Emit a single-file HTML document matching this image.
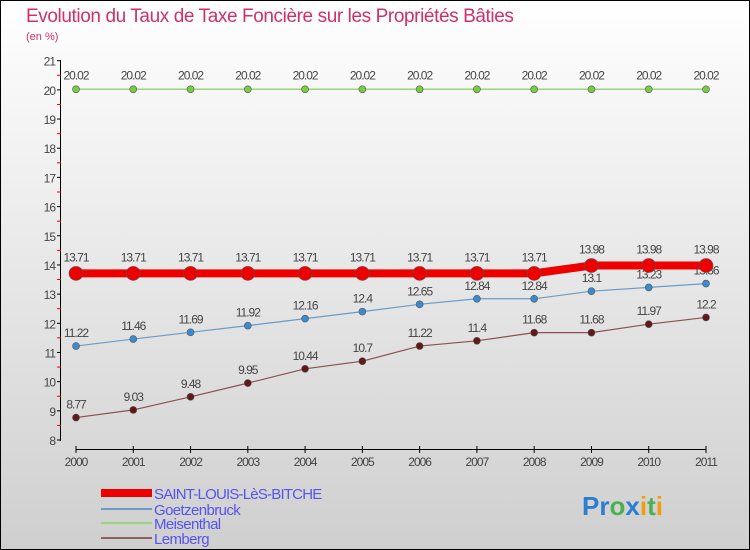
<!DOCTYPE html>
<html><head><meta charset="utf-8"><style>
body{margin:0;width:750px;height:550px;overflow:hidden;font-family:"Liberation Sans",sans-serif}
svg{display:block}
</style></head><body>
<svg width="750" height="550" xmlns="http://www.w3.org/2000/svg">
<defs><linearGradient id="bg" x1="0" y1="0" x2="0" y2="1"><stop offset="0" stop-color="#ffffff"/><stop offset="1" stop-color="#cfcfcf"/></linearGradient></defs>
<rect x="0.5" y="0.5" width="749" height="549" fill="url(#bg)" stroke="#000"/>
<text x="26" y="22" font-size="19" fill="#d0306a" letter-spacing="-0.4">Evolution du Taux de Taxe Foncière sur les Propriétés Bâties</text>
<text x="26" y="40" font-size="11" fill="#d0306a">(en %)</text>
<g id="axes"></g>
<g id="series"></g>
<g>
<rect x="101" y="489" width="51" height="8" fill="#e00"/>
<text x="154" y="499" font-size="15" fill="#5555ee" letter-spacing="-0.8">SAINT-LOUIS-LèS-BITCHE</text>
<rect x="101" y="508" width="51" height="2" fill="#6a9cc8"/>
<text x="154" y="515" font-size="15" fill="#5555ee" letter-spacing="-0.6">Goetzenbruck</text>
<rect x="101" y="522" width="51" height="2" fill="#9bd47a"/>
<text x="154" y="529" font-size="15" fill="#5555ee" letter-spacing="-0.6">Meisenthal</text>
<rect x="101" y="537" width="51" height="2" fill="#8c6060"/>
<text x="154" y="544" font-size="15" fill="#5555ee" letter-spacing="-0.6">Lemberg</text>
</g>
<text x="582" y="515" font-size="26" font-weight="bold"><tspan fill="#2a7fd0">Pr</tspan><tspan fill="#4caf50">o</tspan><tspan fill="#2a7fd0">x</tspan><tspan fill="#f39c12">i</tspan><tspan fill="#4caf50">t</tspan><tspan fill="#f39c12">i</tspan></text>
</svg>
<script>
const years=[2000,2001,2002,2003,2004,2005,2006,2007,2008,2009,2010,2011];
const yTicks=[8,9,10,11,12,13,14,15,16,17,18,19,20,21];
const saintLouis=[13.71,13.71,13.71,13.71,13.71,13.71,13.71,13.71,13.71,13.98,13.98,13.98];
const goetzenbruck=[11.22,11.46,11.69,11.92,12.16,12.4,12.65,12.84,12.84,13.1,13.23,13.36];
const meisenthal=[20.02,20.02,20.02,20.02,20.02,20.02,20.02,20.02,20.02,20.02,20.02,20.02];
const lemberg=[8.77,9.03,9.48,9.95,10.44,10.7,11.22,11.4,11.68,11.68,11.97,12.2];
const NS="http://www.w3.org/2000/svg";
const xS=i=>76+i*(630/11);
const yS=v=>440-(v-8)*(379.3/13);
function mk(tag,attrs,parent,txt){const e=document.createElementNS(NS,tag);for(const k in attrs)e.setAttribute(k,attrs[k]);if(txt!==undefined)e.textContent=txt;parent.appendChild(e);return e;}
const ax=document.getElementById('axes');
let e=mk('line',{x1:60.5,y1:60,x2:60.5,y2:441,stroke:'#000'},ax);


e=mk('line',{x1:76,y1:449.5,x2:706,y2:449.5,stroke:'#000'},ax);


yTicks.forEach(v=>{const y=yS(v);
 mk('line',{x1:57,y1:y,x2:61,y2:y,stroke:'#000'},ax);
 if(v<21)mk('line',{x1:57,y1:yS(v+0.5),x2:61,y2:yS(v+0.5),stroke:'#e00'},ax);
 const t=mk('text',{x:55,y:y+5,'font-size':12,fill:'#444','text-anchor':'end','letter-spacing':'-1'},ax,String(v));
 
 
});
years.forEach((yr,i)=>{const x=xS(i);
 mk('line',{x1:x,y1:446,x2:x,y2:453,stroke:'#000'},ax);
 const t=mk('text',{x:x,y:466,'font-size':12,fill:'#444','text-anchor':'middle','letter-spacing':'-1'},ax,String(yr));
 
 
});
const sg=document.getElementById('series');
function draw(vals,name,color,w,r,dot,labOff){
 const g=mk('g',{},sg);
 
 
 mk('polyline',{points:vals.map((v,i)=>xS(i)+','+yS(v)).join(' '),fill:'none',stroke:color,'stroke-width':w},g);
 vals.forEach((v,i)=>{
  const c=mk('circle',{cx:xS(i),cy:yS(v),r:r,fill:dot,stroke:'#555','stroke-width':0.6},g);
  
  
  const t=mk('text',{x:xS(i),y:yS(v)-labOff,'font-size':12,fill:'#444','text-anchor':'middle','letter-spacing':'-1'},g,String(v));
  
  
 });
}
draw(meisenthal,'meisenthal','#9bd47a',1.5,3.5,'#77cc44',10);
draw(lemberg,'lemberg','#8c5050',1.2,3.5,'#601818',9);
draw(goetzenbruck,'goetzenbruck','#6a9cc8',1.2,3.5,'#3a8ad0',9);
draw(saintLouis,'saint-louis','#ee0000',8,7,'#ee0000',12);
</script>
</body></html>
